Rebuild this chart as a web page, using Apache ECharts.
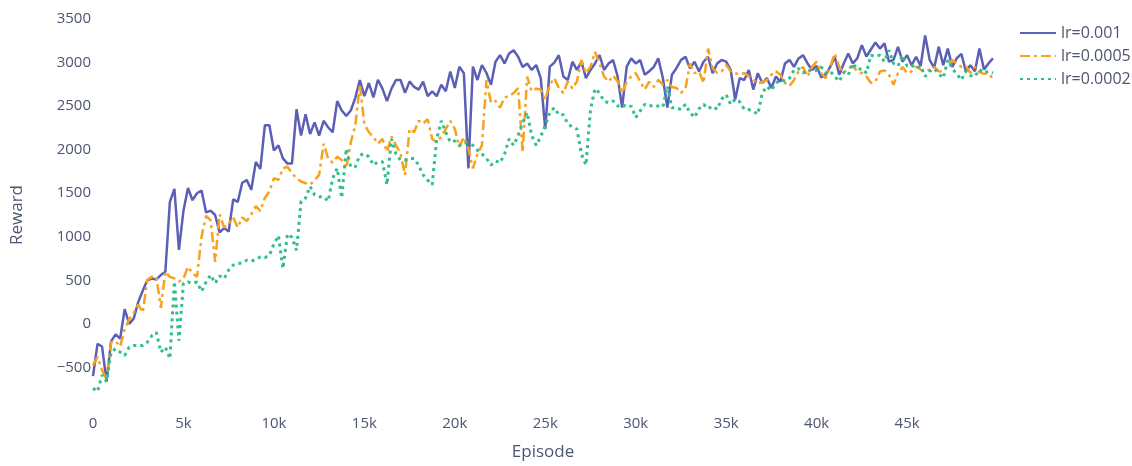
<!DOCTYPE html>
<html lang="en">
<head>
    <meta charset="utf-8">
    <title>Reward vs Episode</title>
    <script src="https://cdn.jsdelivr.net/npm/echarts@6/dist/echarts.min.js"></script>
    <style>
        html, body { margin: 0; padding: 0; background: #fff; }
        #main { width: 1132px; height: 466px; }
    </style>
</head>
<body>
<div id="main"></div>
<script type="text/javascript">
    // rewards sampled every 250 episodes, 0 .. 49750
    var STEP = 250;

    var lr001 = [
        -600, -230, -260, -660,   -200, -120, -170, 170,   0, 60, 250, 380,   500, 520, 510, 560,
        600, 1400, 1550, 850,   1300, 1560, 1420, 1500,   1530, 1280, 1300, 1250,   1050, 1100, 1060, 1430,
        1400, 1620, 1650, 1540,   1860, 1780, 2280, 2280,   1990, 2050, 1900, 1840,   1842, 2463, 2162, 2407,
        2180, 2313, 2162, 2331,   2256, 2200, 2557, 2450,   2388, 2450, 2595, 2800,   2614, 2765, 2600, 2802,
        2700, 2557, 2700, 2800,   2800, 2652, 2784, 2720,   2690, 2780, 2614, 2670,   2614, 2746, 2670, 2897,
        2708, 2953, 2878, 1785,   2953, 2800, 2972, 2880,   2746, 3009, 3085, 2990,   3104, 3141, 3066, 2950,
        2990, 2915, 2972, 2822,   2237, 2953, 3000, 3085,   2840, 2800, 3010, 2915,   3009, 2822, 2915, 2990,
        3085, 2915, 2990, 3028,   2840, 2482, 2950, 3047,   2990, 3028, 2860, 2900,   2950, 3047, 2822, 2482,
        2860, 2935, 3028, 3066,   2935, 3010, 2897, 3009,   3066, 2878, 2990, 3030,   3010, 2915, 2576, 2822,
        2800, 2915, 2690, 2878,   2765, 2822, 2708, 2840,   2780, 2990, 3030, 2950,   3047, 3085, 2990, 2915,
        2960, 2830, 2860, 2950,   3066, 2860, 2990, 3104,   2990, 3050, 3200, 3070,   3150, 3230, 3160, 3220,
        3010, 3030, 3180, 3010,   3085, 2970, 3066, 2960,   3310, 3030, 2940, 3180,   2970, 3160, 2950, 3050,
        3100, 2900, 2970, 2900,   3160, 2920, 2990, 3050
    ];

    var lr0005 = [
        -475, -380, -530, -640,   -211, -200, -260, -60,   53, 128, 222, 130,   505, 540, 542, 184,
        600, 540, 523, 486,   520, 655, 580, 542,   1000, 1240, 1190, 712,   1258, 1107, 1150, 1220,
        1107, 1220, 1180, 1258,   1353, 1296, 1446, 1522,   1672, 1653, 1785, 1804,   1729, 1672, 1635, 1616,
        1597, 1650, 1710, 2068,   1898, 1850, 1918, 1880,   1785, 2087, 2275, 2750,   2294, 2200, 2143, 2068,
        2124, 1974, 2150, 2050,   1955, 1710, 2237, 2200,   2331, 2300, 2350, 2124,   2087, 2150, 2237, 2331,
        2237, 2030, 2143, 2011,   1785, 1950, 2049, 2800,   2539, 2560, 2482, 2600,   2614, 2650, 2708, 1974,
        2840, 2670, 2700, 2690,   2576, 2746, 2822, 2708,   2650, 2784, 2700, 2784,   3028, 2878, 2953, 3122,
        2990, 2840, 2780, 2850,   2784, 2652, 2780, 2840,   2880, 2780, 2690, 2780,   2720, 2800, 2746, 2800,
        2720, 2708, 2652, 2700,   2990, 2878, 2900, 2765,   3160, 2935, 2880, 2900,   2972, 2900, 2878, 2860,
        2880, 2840, 2802, 2760,   2780, 2800, 2860, 2900,   2860, 2765, 2730, 2800,   2900, 2950, 2840, 2950,
        3010, 2880, 2820, 2950,   3104, 2953, 2880, 2935,   2960, 2900, 2878, 2840,   2765, 2780, 2897, 2910,
        2860, 2746, 2880, 2950,   2878, 2900, 2950, 2920,   2897, 2920, 2950, 2900,   2897, 2960, 3028, 2990,
        2950, 2960, 2880, 2950,   2890, 2870, 2880, 2810
    ];

    var lr0002 = [
        -738, -776, -588, -663,   -324, -286, -324, -362,   -268, -249, -249, -249,   -211, -136, -98, -324,
        -268, -399, 486, -192,   467, 480, 467, 480,   373, 480, 562, 467,   550, 520, 618, 675,
        693, 700, 731, 720,   740, 768, 760, 787,   918, 1013, 636, 1032,   994, 844, 1409, 1446,
        1578, 1480, 1460, 1460,   1409, 1672, 1785, 1446,   2011, 1800, 1804, 1936,   1955, 1918, 1823, 1860,
        1860, 1597, 2124, 1950,   1880, 1880, 1898, 1898,   1823, 1710, 1650, 1597,   2124, 2331, 2200, 2087,
        2100, 2050, 2080, 2068,   2050, 1992, 1950, 1900,   1823, 1870, 1850, 1950,   2124, 2050, 2162, 2313,
        2426, 2162, 2049, 2150,   2275, 2426, 2482, 2400,   2400, 2294, 2260, 2237,   1950, 1823, 2463, 2700,
        2650, 2557, 2540, 2560,   2500, 2520, 2490, 2500,   2370, 2445, 2520, 2500,   2510, 2500, 2490, 2727,
        2482, 2482, 2460, 2520,   2426, 2370, 2470, 2520,   2470, 2500, 2463, 2580,   2633, 2520, 2580, 2550,
        2463, 2460, 2440, 2407,   2652, 2727, 2680, 2765,   2800, 2790, 2820, 2915,   2930, 2880, 2920, 2897,
        2910, 2950, 2880, 2900,   2840, 2784, 2890, 2860,   2990, 2920, 2930, 2880,   3085, 3070, 3085, 3010,
        3141, 2990, 2960, 3085,   2960, 2970, 2935, 2960,   2840, 2900, 2930, 2870,   2822, 3028, 2930, 2870,
        2800, 2900, 2850, 2840,   2920, 2880, 2900, 2880
    ];

    var seriesNames = ['lr=0.001', 'lr=0.0005', 'lr=0.0002'];
    var seriesColors = ['#5b5fb6', '#f7a21f', '#2ebf8c'];
    var xTicks = [0, 5000, 10000, 15000, 20000, 25000, 30000, 35000, 40000, 45000];

    function pairs(values) {
        return values.map(function (v, i) { return [i * STEP, v]; });
    }

    var textColor = '#4d5670';
    var font = 'Open Sans';

    var myChart = echarts.init(document.getElementById('main'));
    var option = {
        backgroundColor: '#fff',
        animation: false,
        textStyle: { fontFamily: font },
        grid: { left: 93, right: 139, top: 19, bottom: 49 },
        legend: {
            orient: 'vertical',
            left: 1014,
            top: 20,
            itemWidth: 36,
            itemHeight: 14,
            itemGap: 7,
            data: seriesNames,
            itemStyle: { opacity: 0, borderWidth: 0 },
            textStyle: { color: textColor, fontSize: 16, fontFamily: font }
        },
        xAxis: {
            type: 'value',
            min: 0,
            max: (lr001.length - 1) * STEP,
            interval: 5000,
            name: 'Episode',
            nameLocation: 'middle',
            nameGap: 33,
            nameTextStyle: { color: textColor, fontSize: 17, fontFamily: font },
            axisLine: { show: false },
            axisTick: { show: false },
            splitLine: { show: false },
            axisLabel: {
                color: textColor,
                fontSize: 15,
                margin: 5,
                formatter: function (v) {
                    if (xTicks.indexOf(v) < 0) return '';
                    return v === 0 ? '0' : (v / 1000) + 'k';
                }
            }
        },
        yAxis: {
            type: 'value',
            min: -1000,
            max: 3500,
            interval: 500,
            name: 'Reward',
            nameLocation: 'middle',
            nameGap: 67,
            nameTextStyle: { color: textColor, fontSize: 17, fontFamily: font },
            axisLine: { show: false },
            axisTick: { show: false },
            splitLine: { show: false },
            axisLabel: {
                color: textColor,
                fontSize: 15,
                margin: 2,
                formatter: function (v) {
                    if (v === -1000) return '';
                    return v < 0 ? '\u2212' + Math.abs(v) : String(v);
                }
            }
        },
        series: [
            {
                name: seriesNames[0],
                type: 'line',
                symbol: 'none',
                color: seriesColors[0],
                lineStyle: { width: 2.5, color: seriesColors[0], type: 'solid' },
                data: pairs(lr001)
            },
            {
                name: seriesNames[1],
                type: 'line',
                symbol: 'none',
                color: seriesColors[1],
                lineStyle: { width: 2.5, color: seriesColors[1], type: [10, 4, 3, 4] },
                data: pairs(lr0005)
            },
            {
                name: seriesNames[2],
                type: 'line',
                symbol: 'none',
                color: seriesColors[2],
                lineStyle: { width: 3, color: seriesColors[2], type: [3, 4] },
                data: pairs(lr0002)
            }
        ]
    };
    myChart.setOption(option);
</script>
</body>
</html>
